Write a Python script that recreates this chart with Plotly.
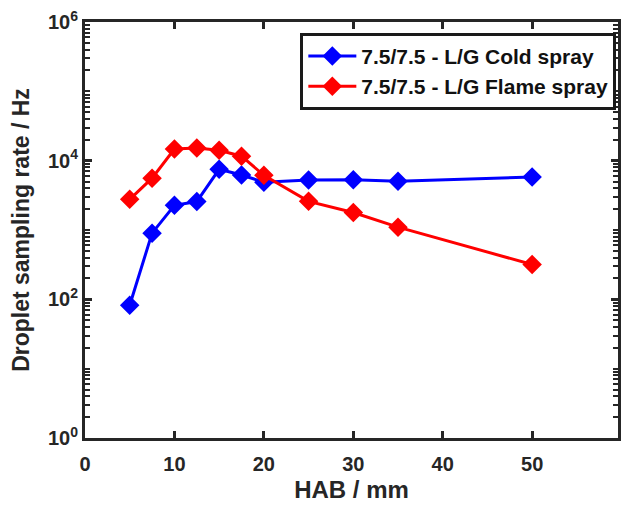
import plotly.graph_objects as go

hab = [5, 7.5, 10, 12.5, 15, 17.5, 20, 25, 30, 35, 50]
cold_rate = [82, 900, 2270, 2570, 7500, 6200, 4900, 5250, 5300, 5050, 5800]
flame_rate = [2770, 5600, 14700, 15200, 14100, 11600, 6150, 2590, 1790, 1100, 318]
cold_name = "7.5/7.5 - L/G Cold spray"
flame_name = "7.5/7.5 - L/G Flame spray"

x_ticks = [0, 10, 20, 30, 40, 50]
y_ticks = [1, 100, 1e4, 1e6]
y_ticktext = ["10<sup>0</sup>", "10<sup>2</sup>", "10<sup>4</sup>", "10<sup>6</sup>"]
y_decades = [1, 10, 100, 1e3, 1e4, 1e5]
y_minor = [m * d for d in y_decades for m in range(1, 10) if m * d not in y_ticks]

font_family = "Liberation Sans, Arial, sans-serif"
ink = "#262626"

fig = go.Figure()
fig.add_trace(go.Scatter(
    x=hab, y=cold_rate, name=cold_name, mode="lines+markers",
    line=dict(color="#0000ff", width=3),
    marker=dict(symbol="diamond", size=15, color="#0000ff"),
))
fig.add_trace(go.Scatter(
    x=hab, y=flame_rate, name=flame_name, mode="lines+markers",
    line=dict(color="#ff0000", width=3),
    marker=dict(symbol="diamond", size=15, color="#ff0000"),
))

axis_common = dict(
    showline=True, linecolor=ink, linewidth=3, mirror="allticks",
    ticks="inside", tickcolor=ink, tickwidth=3, showgrid=False, zeroline=False,
    tickfont=dict(family=font_family, size=20, color=ink, weight="bold"),
)

fig.update_layout(
    width=624, height=505,
    margin=dict(l=85, r=3, t=22, b=67),
    paper_bgcolor="white", plot_bgcolor="white",
    font=dict(family=font_family, color=ink),
    xaxis=dict(
        range=[0, 59.6], tickvals=x_ticks, ticklen=7, ticklabelstandoff=6,
        title=dict(text="HAB / mm", standoff=8,
                   font=dict(family=font_family, size=24, color=ink, weight="bold")),
        **axis_common,
    ),
    yaxis=dict(
        type="log", range=[0, 6], tickvals=y_ticks, ticktext=y_ticktext, ticklen=7,
        minor=dict(tickmode="array", tickvals=y_minor, ticks="inside", ticklen=5,
                   tickwidth=2, tickcolor=ink),
        title=dict(text="Droplet sampling rate / Hz", standoff=12,
                   font=dict(family=font_family, size=23, color=ink, weight="bold")),
        **axis_common,
    ),
    legend=dict(
        x=0.404, y=0.974, xanchor="left", yanchor="top",
        bgcolor="white", bordercolor="#1a1a1a", borderwidth=3,
        font=dict(family=font_family, size=21, color="#111111", weight="bold"),
        itemwidth=48, tracegroupgap=0,
    ),
    showlegend=True,
)

fig.write_html("out.html")
